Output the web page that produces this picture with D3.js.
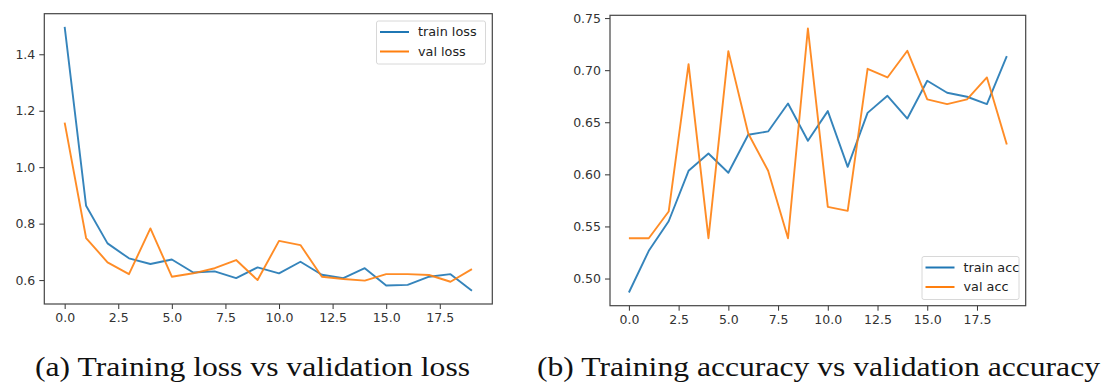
<!DOCTYPE html>
<html>
<head>
<meta charset="utf-8">
<script src="https://cdn.jsdelivr.net/npm/d3@7"></script>
<style>
	body { margin: 0; background: #fff; }
	svg { display: block; }
	.tick text { font-family: "DejaVu Sans", sans-serif; font-size: 12.5px; fill: #333; }
	.legend text { font-family: "DejaVu Sans", sans-serif; font-size: 12.8px; fill: #222; }
	.caption { font-family: "Liberation Serif", "DejaVu Serif", serif; font-size: 28px; fill: #111; }
</style>
</head>
<body>
<div id="vis"></div>
<script>
var epochs = d3.range(0, 20);

var trainLoss = [1.497, 0.863, 0.730, 0.677, 0.657, 0.673, 0.627, 0.631, 0.607, 0.645,
	0.624, 0.665, 0.619, 0.607, 0.642, 0.581, 0.583, 0.612, 0.621, 0.562];
var valLoss = [1.158, 0.749, 0.663, 0.621, 0.783, 0.612, 0.624, 0.642, 0.671, 0.600,
	0.739, 0.724, 0.612, 0.604, 0.598, 0.621, 0.621, 0.618, 0.594, 0.639];

var trainAcc = [0.4866, 0.5266, 0.555, 0.6034, 0.620, 0.6015, 0.638, 0.6412, 0.668, 0.6322,
	0.6607, 0.6072, 0.659, 0.6754, 0.6536, 0.6898, 0.6783, 0.6745, 0.6674, 0.7135];
var valAcc = [0.5387, 0.5387, 0.5643, 0.7058, 0.5387, 0.7183, 0.6392, 0.6034, 0.5387, 0.740,
	0.5688, 0.565, 0.7013, 0.693, 0.7186, 0.6719, 0.6674, 0.6719, 0.693, 0.6287];

var xTicks = [0, 2.5, 5, 7.5, 10, 12.5, 15, 17.5];
var lossTicks = [0.6, 0.8, 1.0, 1.2, 1.4];
var accTicks = [0.50, 0.55, 0.60, 0.65, 0.70, 0.75];

var seriesColours = ["#1f77b4", "#ff7f0e"];

var W = 1103, H = 383;

var svg = d3.select("#vis").append("svg")
.attr("width", W)
.attr("height", H);

// pad a data extent by 5% like matplotlib does
function padded (ext) {
	var m = (ext[1] - ext[0]) * 0.05;
	return [ext[0] - m, ext[1] + m];
}

function panel (opt) {
	var g = svg.append("g");

	var x = d3.scaleLinear()
	.domain(padded(d3.extent(epochs)))
	.range([opt.left, opt.right]);

	var all = opt.series[0].values.concat(opt.series[1].values);
	var y = d3.scaleLinear()
	.domain(padded(d3.extent(all)))
	.range([opt.bottom, opt.top]);

	var line = d3.line()
	.x(function (d, i) { return x(epochs[i]); })
	.y(function (d) { return y(d); });

	g.selectAll(".series")
	.data(opt.series)
	.enter()
	.append("path")
	.attr("class", "series")
	.attr("d", function (d) { return line(d.values); })
	.attr("fill", "none")
	.attr("stroke", function (d, i) { return seriesColours[i]; })
	.attr("stroke-width", 1.9)
	.attr("stroke-opacity", 0.9)
	.attr("stroke-linejoin", "round");

	var xAxis = g.append("g")
	.attr("transform", "translate(0," + opt.bottom + ")")
	.call(d3.axisBottom(x).tickValues(xTicks).tickSize(5).tickPadding(4)
		.tickFormat(d3.format(".1f")));

	var yAxis = g.append("g")
	.attr("transform", "translate(" + opt.left + ",0)")
	.call(d3.axisLeft(y).tickValues(opt.yTicks).tickSize(5).tickPadding(4)
		.tickFormat(d3.format(opt.yFormat)));

	[xAxis, yAxis].forEach(function (a) {
		a.select(".domain").remove();
		a.selectAll(".tick line").attr("stroke", "#333");
	});

	// frame
	g.append("rect")
	.attr("x", opt.left)
	.attr("y", opt.top)
	.attr("width", opt.right - opt.left)
	.attr("height", opt.bottom - opt.top)
	.attr("fill", "none")
	.attr("stroke", "#444")
	.attr("stroke-width", 1.2);

	// legend
	var lg = g.append("g")
	.attr("class", "legend")
	.attr("transform", "translate(" + opt.legend[0] + "," + opt.legend[1] + ")");

	lg.append("rect")
	.attr("x", 0.5)
	.attr("y", 0.5)
	.attr("width", opt.legendW)
	.attr("height", 43)
	.attr("rx", 2)
	.attr("fill", "#fff")
	.attr("fill-opacity", 0.8)
	.attr("stroke", "#d8d8d8");

	var items = lg.selectAll(".item")
	.data(opt.series)
	.enter()
	.append("g")
	.attr("class", "item")
	.attr("transform", function (d, i) {
		return "translate(0," + (11.5 + i * 19.5) + ")";
	});

	items.append("line")
	.attr("x1", 4)
	.attr("x2", 33)
	.attr("stroke", function (d, i) { return seriesColours[i]; })
	.attr("stroke-width", 2);

	items.append("text")
	.attr("x", 42)
	.attr("dy", "0.35em")
	.text(function (d) { return d.name; });

	g.append("text")
	.attr("class", "caption")
	.attr("x", opt.caption[0])
	.attr("y", opt.caption[1])
	.attr("textLength", opt.captionW)
	.attr("lengthAdjust", "spacingAndGlyphs")
	.text(opt.captionText);
}

panel({
	left: 44.3, right: 492.3, top: 13.7, bottom: 304,
	series: [{name: "train loss", values: trainLoss}, {name: "val loss", values: valLoss}],
	yTicks: lossTicks, yFormat: ".1f",
	legend: [376, 20.5], legendW: 109,
	caption: [35, 376], captionW: 435,
	captionText: "(a) Training loss vs validation loss"
});

panel({
	left: 610, right: 1025.7, top: 15.3, bottom: 305.7,
	series: [{name: "train acc", values: trainAcc}, {name: "val acc", values: valAcc}],
	yTicks: accTicks, yFormat: ".2f",
	legend: [921.5, 256], legendW: 97,
	caption: [537, 376], captionW: 563,
	captionText: "(b) Training accuracy vs validation accuracy"
});
</script>
</body>
</html>
